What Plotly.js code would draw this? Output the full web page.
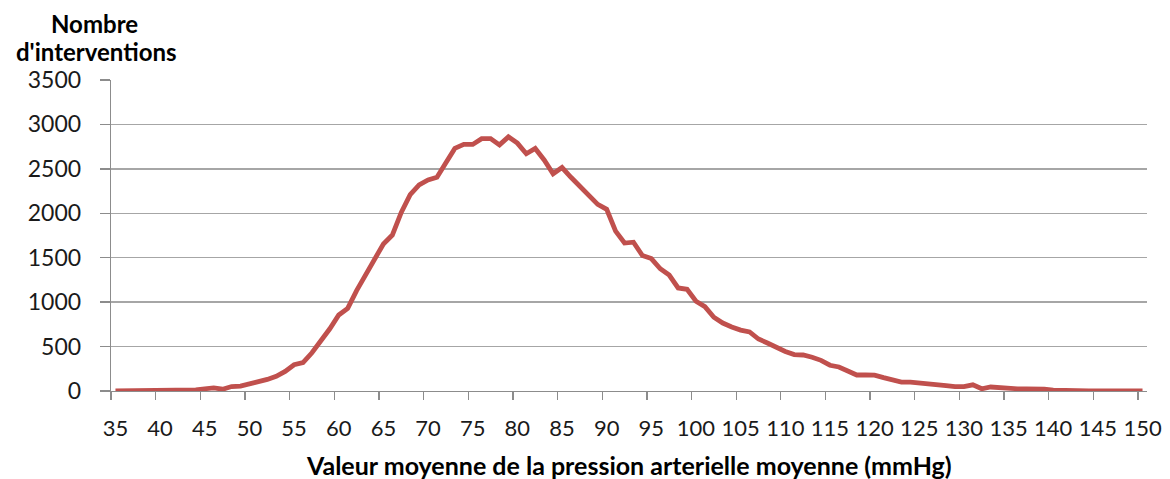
<!DOCTYPE html>
<html>
<head>
<meta charset="utf-8">
<script src="https://cdn.plot.ly/plotly-3.0.1.min.js"></script>
<style>
html,body{margin:0;padding:0;background:#fff;}
#chart{width:1170px;height:479px;}
</style>
</head>
<body>
<div id="chart"></div>
<script>
// Mean arterial pressure values (mmHg), one category each
var pressure = [35,36,37,38,39,40,41,42,43,44,45,46,47,48,49,50,51,52,53,54,55,56,57,58,59,
  60,61,62,63,64,65,66,67,68,69,70,71,72,73,74,75,76,77,78,79,80,81,82,83,84,85,86,87,88,89,
  90,91,92,93,94,95,96,97,98,99,100,101,102,103,104,105,106,107,108,109,110,111,112,113,114,
  115,116,117,118,119,120,121,122,123,124,125,126,127,128,129,130,131,132,133,134,135,136,137,
  138,139,140,141,142,143,144,145,146,147,148,149,150];
// Number of interventions
var interventions = [0,0,0,0,0,0,0,2,5,12,25,35,20,50,55,80,100,130,165,220,295,320,430,560,700,
  855,930,1130,1300,1465,1655,1755,2010,2210,2320,2375,2405,2570,2730,2775,2775,2840,2840,2770,2860,
  2790,2670,2730,2600,2445,2515,2405,2300,2200,2100,2045,1800,1665,1675,1525,1490,1375,1305,1160,1145,
  1010,950,830,765,720,685,665,585,540,490,445,410,405,380,345,290,270,225,180,180,178,150,118,100,100,
  92,88,75,60,50,50,70,25,45,35,28,25,25,25,22,10,5,3,2,1,1,0,0,0,0,0];
var tickLabels = ['35','40','45','50','55','60','65','70','75','80','85','90','95','100','105','110',
  '115','120','125','130','135','140','145','150'];
var tickPositions = [35,40,45,50,55,60,65,70,75,80,85,90,95,100,105,110,115,120,125,130,135,140,145,150];
var yTitleLines = ['Nombre', "d'interventions"];
var xTitle = 'Valeur moyenne de la pression arterielle moyenne (mmHg)';

var W = 1170, H = 479;
var mL = 111, mR = 23, mT = 80, mB = 88;
var pw = W - mL - mR, ph = H - mT - mB;
function px2paperX(px){ return (px - mL) / pw; }
function px2paperY(py){ return (H - mB - py) / ph; }

var FONT = 'Lato, "Liberation Sans", sans-serif';
var gray = '#8c8c8c';

var trace = {
  x: pressure, y: interventions, type: 'scatter', mode: 'lines',
  line: {color: '#c0504d', width: 4.8, shape: 'linear'},
  hoverinfo: 'skip'
};

var layout = {
  width: W, height: H,
  margin: {l: mL, r: mR, t: mT, b: mB, pad: 0},
  paper_bgcolor: '#ffffff', plot_bgcolor: '#ffffff',
  showlegend: false,
  font: {family: FONT, size: 22, color: '#1a1a1a'},
  xaxis: {
    range: [34.5, 150.5], showgrid: false, zeroline: false,
    showline: true, linecolor: gray, linewidth: 1.3,
    tickmode: 'array', tickvals: tickPositions, ticktext: tickLabels,
    ticks: '', ticklabelstandoff: 17,
    tickfont: {family: FONT, size: 22, color: '#1a1a1a'},
    minor: {tick0: 34.5, dtick: 5, ticks: 'outside', ticklen: 8, tickwidth: 1.3, tickcolor: gray, showgrid: false},
    fixedrange: true
  },
  yaxis: {
    range: [0, 3500], tickmode: 'linear', tick0: 0, dtick: 500,
    showgrid: true, gridcolor: '#a6a6a6', gridwidth: 1.3,
    zeroline: false, showline: true, linecolor: gray, linewidth: 1.3,
    ticks: 'outside', ticklen: 10, tickwidth: 1.3, tickcolor: gray,
    ticklabelstandoff: 14,
    tickfont: {family: FONT, size: 23, color: '#1a1a1a'},
    fixedrange: true
  },
  annotations: [
    {text: '<b>' + yTitleLines[0] + '</b>', xref: 'paper', yref: 'paper',
     x: px2paperX(94), y: px2paperY(23), xanchor: 'center', yanchor: 'middle',
     showarrow: false, font: {family: FONT, size: 24, color: '#000'}},
    {text: '<b>' + yTitleLines[1] + '</b>', xref: 'paper', yref: 'paper',
     x: px2paperX(96), y: px2paperY(51), xanchor: 'center', yanchor: 'middle',
     showarrow: false, font: {family: FONT, size: 24, color: '#000'}},
    {text: '<b>' + xTitle + '</b>', xref: 'paper', yref: 'paper',
     x: 0.5, y: px2paperY(465), xanchor: 'center', yanchor: 'middle',
     showarrow: false, font: {family: FONT, size: 25, color: '#000'}}
  ]
};

Plotly.newPlot('chart', [trace], layout, {staticPlot: true, displayModeBar: false});
</script>
</body>
</html>
